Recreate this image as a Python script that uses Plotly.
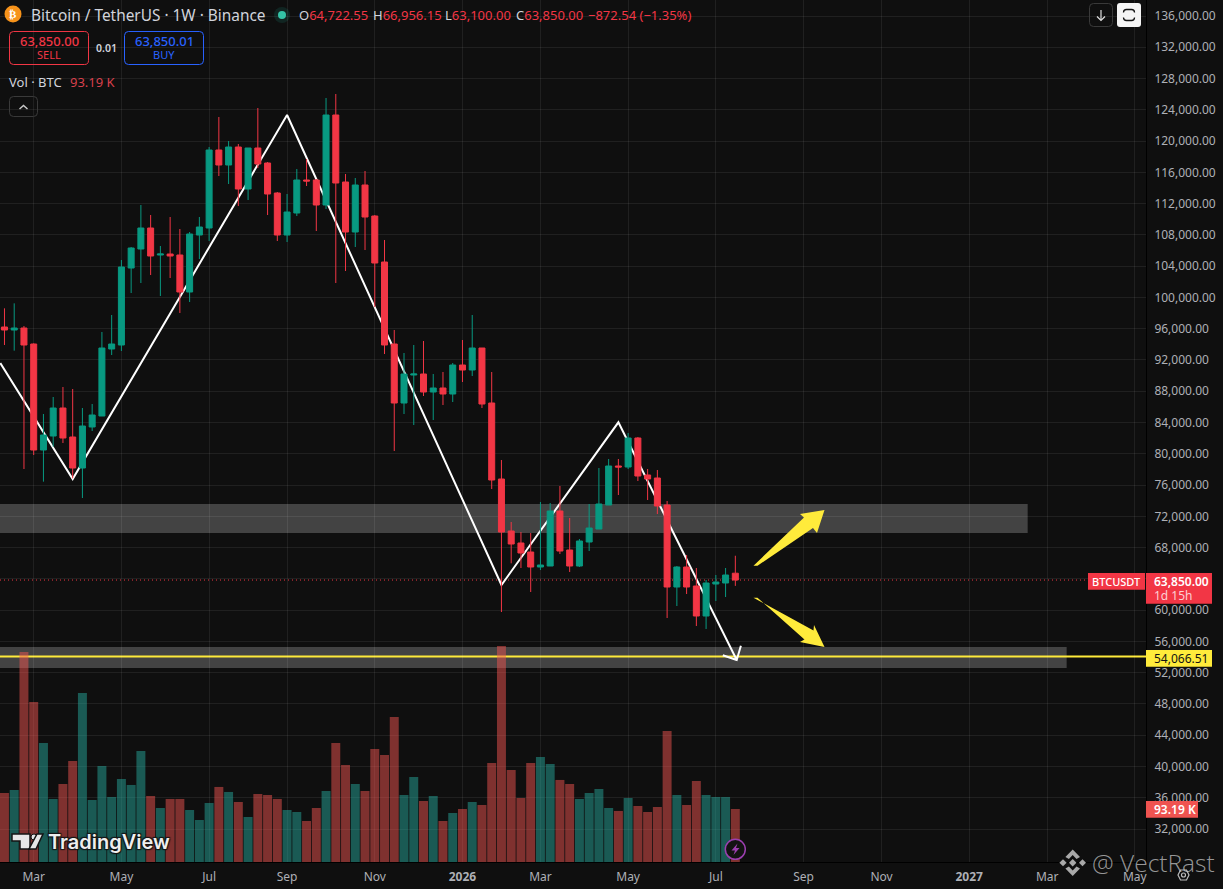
import pandas as pd
import plotly.graph_objects as go

W, H = 1146, 862  # plot pane in px

week_start = "2025-02-10"
opens = [96217,95833,96089,94042,80483,82274,85856,82146,78180,83426,84832,93403,93914,103764,106195,108881,105427,105555,105427,100694,
         107986,108881,118859,116940,119242,113870,119115,117196,113358,107986,110800,115021,115021,111823,123336,114765,108369,114382,110416,104532,
         94043,86495,90077,90205,87902,88414,87647,91356,90717,93531,86495,76773,70121,68586,67435,65516,65644,72680,67691,65644,
         68714,70377,73447,78436,78308,82018,77285,76901,73447,62958,65516,63086,59248,63342,63470,64722.55]
highs = [98605,99244,96345,94128,85088,87263,88542,88286,85856,86367,95577,97752,104788,106451,111823,110544,106578,110288,108753,108369,
         110288,119242,123080,120010,119626,119115,124231,117324,113486,113230,116428,117707,115149,125511,126022,115789,115277,116172,110544,107346,
         95833,92891,93915,94426,90205,90461,91612,94554,97752,93531,90461,79204,71273,69993,69865,73831,73703,75878,71784,69098,
         73575,78180,79332,79332,82658,82146,78052,77924,73959,65644,67051,65388,63853,64493,65388,66956.15]
lows = [93914,93189,78052,79843,76432,80909,81378,76858,74343,82914,84832,92636,93147,100566,101846,102869,100182,102485,98008,99415,
        104915,107218,115533,114510,111695,112463,116556,110544,107218,107090,110416,114254,108497,111311,101846,103380,106451,106067,98775,92763,
        80355,85088,83681,87390,84321,86239,86623,89181,89949,85856,75494,59760,65985,65388,62318,65132,65644,67179,64877,65516,
        67563,70377,73447,74726,78052,76517,74087,72296,58993,60527,62062,57968,57586,61167,61679,63100]
closes = [95833,96089,93914,80483,82402,85856,82018,78180,83553,84960,93531,94042,103892,106323,108881,105299,105555,105299,100694,108113,
          109009,118859,116940,119242,113870,119115,117068,113230,107986,110928,115021,114893,111823,123336,114638,108369,114382,110288,104404,93915,
          86495,90205,90205,87902,88414,87647,91356,90717,93531,86367,76645,69993,68458,67307,65516,65772,72680,67563,65644,68842,
          70505,73575,78436,78308,82018,77157,76773,73319,62958,65516,62958,59248,63470,63598,64493,63850]
volumes_k = [121.3,126.6,369.2,281.3,209.2,110.8,137.1,177.6,297.1,109,168.8,114.3,145.9,135.4,195.1,116,94.9,110.8,110.8,91.4,
             73.8,103.7,131.9,123.1,105.5,79.1,119.5,117.8,110.8,91.4,87.9,72.1,94.9,124.8,209.2,170.5,137.1,124.8,198.7,188.1,
             254.9,117.8,149.4,107.2,116,72.1,86.1,93.2,105.5,100.2,174,379.7,161.7,112.5,174,184.6,172.3,144.2,137.1,110.8,
             121.3,128.3,94.9,89.7,112.5,98.4,87.9,96.7,230.3,117.8,100.2,142.4,117.8,114.3,114.3,93.19]

zigzag_dates = ["2025-02-07","2025-03-31","2025-09-01","2026-02-02","2026-04-27","2026-07-21","2026-07-11","2026-07-21","2026-07-24"]
zigzag_prices = [91611,76773,123336,63212,84026,53620,54220,53620,55450]

x_tick_dates = ["2025-03-03","2025-05-05","2025-07-07","2025-09-01","2025-11-03","2026-01-05","2026-03-02","2026-05-04","2026-07-06",
                "2026-09-07","2026-11-02","2027-01-04","2027-03-01","2027-05-03"]
x_tick_text = ["Mar","May","Jul","Sep","Nov","<b>2026</b>","Mar","May","Jul","Sep","Nov","<b>2027</b>","Mar","May"]
y_ticks = list(range(32000, 136001, 4000))
hidden_y_labels = [64000]  # covered by the last-price tag in the reference
y_tick_text = ["" if v in hidden_y_labels else f"{v:,.2f}" for v in y_ticks]

last_close = 63850
level = 54066.51
zones = [("2027-02-15", 69865, 73575), ("2027-03-15", 52596, 55283)]

X_RANGE = ["2025-02-06 19:00", "2027-05-11"]
PRICE_RANGE = [27780, 138047]
VOL_RANGE = [0, 1515]

BG = "#0f0f0f"; RED = "#f23645"; GREEN = "#089981"; BLUE = "#2962ff"; YEL = "#ffeb3b"
GRID = "rgba(255,255,255,0.075)"; TXT = "#d1d4dc"; AX = "#aeb0b6"
FONT = "Noto Sans"

dates = pd.date_range(week_start, periods=len(closes), freq="7D")
vol_colors = ["rgba(38,166,154,0.5)" if c >= o else "rgba(239,83,80,0.5)" for o, c in zip(opens, closes)]

fig = go.Figure()
fig.add_bar(x=dates, y=volumes_k, marker=dict(color=vol_colors, line_width=0), yaxis="y", hoverinfo="skip")
fig.add_scatter(x=pd.to_datetime(zigzag_dates), y=zigzag_prices, mode="lines", yaxis="y2",
                line=dict(color="#ffffff", width=2), hoverinfo="skip")
fig.add_candlestick(x=dates, open=opens, high=highs, low=lows, close=closes, yaxis="y3",
                    increasing=dict(line=dict(color=GREEN, width=1), fillcolor=GREEN),
                    decreasing=dict(line=dict(color=RED, width=1), fillcolor=RED),
                    whiskerwidth=0, hoverinfo="skip")

def px(x): return x / W
def py(y): return 1 - y / H

def poly(points, close=True):
    d = "M" + " L".join(f"{px(x):.5f},{py(y):.5f}" for x, y in points)
    return d + (" Z" if close else "")

def rrect(x0, y0, x1, y1, r):
    c = lambda x, y: f"{px(x):.5f},{py(y):.5f}"
    return (f"M{c(x0+r,y0)} L{c(x1-r,y0)} Q{c(x1,y0)} {c(x1,y0+r)} L{c(x1,y1-r)} Q{c(x1,y1)} {c(x1-r,y1)} "
            f"L{c(x0+r,y1)} Q{c(x0,y1)} {c(x0,y1-r)} L{c(x0,y0+r)} Q{c(x0,y0)} {c(x0+r,y0)} Z")

shapes = []
def path(d, fill="rgba(0,0,0,0)", line=None, lw=1, opacity=None):
    s = dict(type="path", xref="paper", yref="paper", path=d, fillcolor=fill, layer="above",
             line=dict(color=line or "rgba(0,0,0,0)", width=lw if line else 0))
    if opacity is not None:
        s["opacity"] = opacity
    shapes.append(s)

def circle(cx, cy, r, fill="rgba(0,0,0,0)", line=None, lw=1, dash=None, opacity=None):
    s = dict(type="circle", xref="paper", yref="paper", x0=px(cx-r), x1=px(cx+r), y0=py(cy+r), y1=py(cy-r),
             fillcolor=fill, layer="above",
             line=dict(color=line or "rgba(0,0,0,0)", width=lw if line else 0, dash=dash or "solid"))
    if opacity is not None:
        s["opacity"] = opacity
    shapes.append(s)

anns = []
def text(x, y, t, size=12, color=TXT, anchor="left", family=FONT, weight=None, shadow=None):
    f = dict(size=size, color=color, family=family)
    if weight: f["weight"] = weight
    if shadow: f["shadow"] = shadow
    anns.append(dict(xref="paper", yref="paper", x=px(x), y=py(y), text=t, showarrow=False,
                     xanchor=anchor, yanchor="middle", font=f, borderpad=0, borderwidth=0))

# zones and levels, under the bars and candles
for end, lo, hi in zones:
    shapes.append(dict(type="rect", xref="x", yref="y3", x0=X_RANGE[0], x1=end, y0=lo, y1=hi,
                       fillcolor="#434343", line_width=0, layer="below"))
shapes.append(dict(type="line", xref="x", yref="y3", x0=X_RANGE[0], x1=X_RANGE[1], y0=level, y1=level,
                   line=dict(color=YEL, width=2), layer="below"))
shapes.append(dict(type="line", xref="x", yref="y3", x0=X_RANGE[0], x1=X_RANGE[1], y0=last_close, y1=last_close,
                   line=dict(color=RED, width=1, dash="1px,3px"), layer="below"))

# yellow drawn arrows
path(poly([(753.5,565.7),(804,517.5),(800,514),(824.5,510),(817,533),(813,528),(757.5,565.7)]), fill=YEL)
path(poly([(753.5,597.7),(813.5,630.5),(814,625),(824.5,647),(800,642),(804.5,639.5),(757.5,597.7)]), fill=YEL)

# header
circle(13, 14, 8.5, fill="#f7931a")
text(13, 14.5, "₿", size=11, color="#ffffff", anchor="center", family="DejaVu Sans", weight=700)
text(31, 15, "Bitcoin / TetherUS · 1W · Binance", size=15.4)
circle(282, 15, 8, fill="rgba(34,171,148,0.15)")
circle(282, 15, 4, fill="#34c2a6")
for lx, letter, val in [(299, "O", "64,722.55"), (372.5, "H", "66,956.15"), (445, "L", "63,100.00"), (516, "C", "63,850.00")]:
    text(lx, 15, f'{letter}<span style="color:{RED}">{val}</span>', size=13)
text(588, 15, "−872.54 (−1.35%)", size=13, color=RED)

# sell / buy
path(rrect(9.5, 31.5, 88.5, 64.5, 4), line=RED, lw=1)
text(49, 41, "63,850.00", size=13, color=RED, anchor="center", weight=500)
text(49, 55, "SELL", size=11, color=RED, anchor="center")
text(106, 48, "0.01", size=10.5, color=TXT, anchor="center", weight=600)
path(rrect(124.5, 31.5, 203.5, 64.5, 4), line=BLUE, lw=1)
text(164, 41, "63,850.01", size=13, color=BLUE, anchor="center", weight=500)
text(164, 55, "BUY", size=11, color=BLUE, anchor="center")

text(9, 82, "Vol · BTC", size=13)
text(70, 82, "93.19 K", size=13, color="#d8404c")
path(rrect(9.5, 96.5, 37.5, 116.5, 4), line="#3a3a3a", lw=1)
path(poly([(19.5,109),(23.5,105.5),(27.5,109)], close=False), line="#c8c8c8", lw=1.5)

# top right buttons
path(rrect(1089.5, 3.5, 1112.5, 26.5, 4), line="#3a3a3a", lw=1)
path(poly([(1101,10),(1101,20)], close=False), line="#e0e0e0", lw=1.2)
path(poly([(1097,16.5),(1101,20.5),(1105,16.5)], close=False), line="#e0e0e0", lw=1.2)
path(rrect(1117, 3, 1141, 27, 3), fill="#f5f5f5")
path(rrect(1123.5, 9.5, 1134.5, 20.5, 3), line="#111111", lw=1.3)
path(poly([(1121,12.5),(1137,12.5),(1137,17.5),(1121,17.5)]), fill="#f5f5f5")

# price scale tags
path(poly([(1088,573),(1145,573),(1145,589.7),(1088,589.7)]), fill=RED)
text(1116.5, 581.5, "BTCUSDT", size=11, color="#ffffff", anchor="center", weight=500)
path(poly([(1146,573),(1212,573),(1212,603.7),(1146,603.7)]), fill=RED)
text(1153.5, 581, "63,850.00", size=12, color="#ffffff", weight=600)
text(1153.5, 595, "1d 15h", size=12, color="#fcd0d4")
path(poly([(1146,650),(1212,650),(1212,666.7),(1146,666.7)]), fill=YEL)
text(1153.5, 658, "54,066.51", size=12, color="#131313")
path(poly([(1146,801),(1198,801),(1198,817.7),(1146,817.7)]), fill="#ef5350")
text(1153.5, 809.5, "93.19 K", size=12, color="#ffffff", weight=600)

# TradingView logo
outline = "#141414"
path(poly([(12,834),(30,834),(30,849),(20,849),(20,841),(12,841)]), fill="#e6e6e6", line=outline, lw=1.5)
circle(34, 837, 3, fill="#e6e6e6", line=outline, lw=1)
path(poly([(37,834),(43,834),(36,849),(29,849)]), fill="#e6e6e6", line=outline, lw=1.5)
text(48, 841.5, "TradingView", size=20, color="#eeeeee", family="Inter", weight=600,
     shadow="1px 1px 1px #141414, -1px -1px 1px #141414, 1px -1px 1px #141414, -1px 1px 1px #141414")

# lightning badge
circle(735.3, 849.3, 10, fill="#131313", line="#9c3fb0", lw=1.5)
path(poly([(737.5,843.5),(731.5,850.5),(735,850.5),(733.5,855),(739.5,848),(736,848)]), fill="#9c3fb0")

# settings hexagon
path(poly([(1178,875),(1180.5,870),(1186.5,870),(1189,875),(1186.5,880),(1180.5,880)]), line="#bdbdbd", lw=1.2)
circle(1183.5, 875, 2, line="#bdbdbd", lw=1.2)

# watermark
wm = "#c4c4c4"
path(poly([(1072.7,849.5),(1080,857),(1076.5,859),(1072.7,855),(1068.9,859),(1065.4,857)]), fill=wm, opacity=0.85)
path(poly([(1072.7,876),(1080,868.5),(1076.5,866.5),(1072.7,870.5),(1068.9,866.5),(1065.4,868.5)]), fill=wm, opacity=0.85)
path(poly([(1072.7,859),(1076.4,862.7),(1072.7,866.4),(1069,862.7)]), fill=wm, opacity=0.85)
path(poly([(1063,859.2),(1066.6,862.7),(1063,866.2),(1059.4,862.7)]), fill=wm, opacity=0.85)
path(poly([(1082.5,859.2),(1086,862.7),(1082.5,866.2),(1079,862.7)]), fill=wm, opacity=0.85)
text(1092, 862, "@ VectRast", size=24.5, color="rgba(205,205,205,0.72)", family="Open Sans", weight=300)

fig.update_layout(
    width=1223, height=889, autosize=False, showlegend=False,
    margin=dict(l=0, r=77, t=0, b=27, pad=0),
    paper_bgcolor=BG, plot_bgcolor=BG,
    font=dict(family=FONT, color=AX, size=12),
    bargap=0.08, boxgap=0.12, boxgroupgap=0.3, hovermode=False,
    shapes=shapes, annotations=anns,
    xaxis=dict(type="date", range=X_RANGE, tickmode="array", tickvals=pd.to_datetime(x_tick_dates), ticktext=x_tick_text,
               showgrid=True, gridcolor=GRID, gridwidth=1, zeroline=False, showline=True, linecolor="#000000", linewidth=1,
               ticks="", ticklabelstandoff=4, tickfont=dict(size=12, color=AX, family=FONT), rangeslider=dict(visible=False)),
    yaxis=dict(range=VOL_RANGE, visible=False, domain=[0, 1], fixedrange=True),
    yaxis2=dict(range=PRICE_RANGE, overlaying="y", visible=False, fixedrange=True),
    yaxis3=dict(range=PRICE_RANGE, overlaying="y", side="right", anchor="x", tickmode="array", tickvals=y_ticks,
                ticktext=y_tick_text, showgrid=True, gridcolor=GRID, gridwidth=1, zeroline=False, showline=True,
                linecolor="#000000", linewidth=1, ticks="", ticklabelstandoff=5, ticklabelposition="outside",
                tickfont=dict(size=12, color=AX, family=FONT), fixedrange=True),
)

fig.write_html("out.html", config={"displayModeBar": False},
               post_script="document.body.style.margin='0';document.body.style.background='#0f0f0f';document.documentElement.style.overflow='hidden';")
